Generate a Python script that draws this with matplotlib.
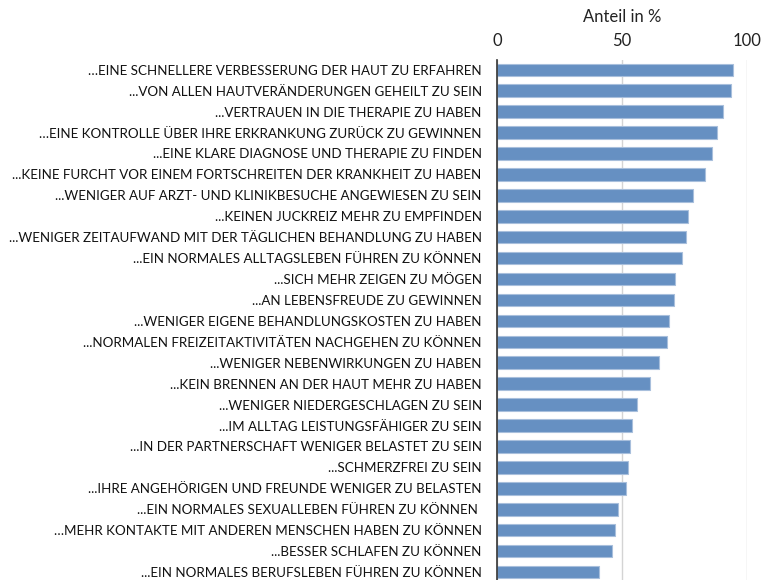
import numpy as np
import matplotlib.pyplot as plt

# Aussagen (von oben nach unten) und Anteil in %
labels = [
    "…EINE SCHNELLERE VERBESSERUNG DER HAUT ZU ERFAHREN",
    "...VON ALLEN HAUTVERÄNDERUNGEN GEHEILT ZU SEIN",
    "...VERTRAUEN IN DIE THERAPIE ZU HABEN",
    "…EINE KONTROLLE ÜBER IHRE ERKRANKUNG ZURÜCK ZU GEWINNEN",
    "...EINE KLARE DIAGNOSE UND THERAPIE ZU FINDEN",
    "...KEINE FURCHT VOR EINEM FORTSCHREITEN DER KRANKHEIT ZU HABEN",
    "...WENIGER AUF ARZT- UND KLINIKBESUCHE ANGEWIESEN ZU SEIN",
    "...KEINEN JUCKREIZ MEHR ZU EMPFINDEN",
    "...WENIGER ZEITAUFWAND MIT DER TÄGLICHEN BEHANDLUNG ZU HABEN",
    "...EIN NORMALES ALLTAGSLEBEN FÜHREN ZU KÖNNEN",
    "...SICH MEHR ZEIGEN ZU MÖGEN",
    "...AN LEBENSFREUDE ZU GEWINNEN",
    "...WENIGER EIGENE BEHANDLUNGSKOSTEN ZU HABEN",
    "...NORMALEN FREIZEITAKTIVITÄTEN NACHGEHEN ZU KÖNNEN",
    "...WENIGER NEBENWIRKUNGEN ZU HABEN",
    "...KEIN BRENNEN AN DER HAUT MEHR ZU HABEN",
    "...WENIGER NIEDERGESCHLAGEN ZU SEIN",
    "...IM ALLTAG LEISTUNGSFÄHIGER ZU SEIN",
    "...IN DER PARTNERSCHAFT WENIGER BELASTET ZU SEIN",
    "...SCHMERZFREI ZU SEIN",
    "...IHRE ANGEHÖRIGEN UND FREUNDE WENIGER ZU BELASTEN",
    "...EIN NORMALES SEXUALLEBEN FÜHREN ZU KÖNNEN ",
    "…MEHR KONTAKTE MIT ANDEREN MENSCHEN HABEN ZU KÖNNEN",
    "...BESSER SCHLAFEN ZU KÖNNEN",
    "...EIN NORMALES BERUFSLEBEN FÜHREN ZU KÖNNEN",
]
values = [94.2, 93.4, 90.4, 88.0, 85.9, 83.2, 78.4, 76.4, 75.6, 74.0,
          71.2, 70.9, 68.8, 67.9, 64.6, 61.2, 55.8, 53.9, 53.1, 52.4,
          51.6, 48.4, 47.2, 46.1, 40.8]
xticks = [0, 50, 100]

plt.rcParams['font.family'] = ['Lato', 'DejaVu Sans']

fig = plt.figure(figsize=(7.67, 5.80), dpi=100)
ax = fig.add_axes([0.648, 0.0, 0.326, 0.897])

y = np.arange(len(labels))
ax.barh(y, values, height=0.6, color='#6690c2', edgecolor='#a8bfdc', linewidth=0.8, zorder=3)

ax.set_xlim(0, 100)
ax.set_ylim(len(labels) - 0.62, -0.48)
ax.set_yticks(y)
ax.set_yticklabels(labels, fontsize=9.6, color='#111111')
ax.tick_params(axis='y', length=0, pad=11)

ax.xaxis.tick_top()
ax.xaxis.set_label_position('top')
ax.set_xticks(xticks)
ax.tick_params(axis='x', length=0, labelsize=12, pad=8, colors='#222222')
ax.set_xlabel('Anteil in %', fontsize=12, labelpad=8, color='#222222')

ax.grid(axis='x', color='#d4d4d4', linewidth=1, zorder=0)
for s in ['top', 'right', 'bottom']:
    ax.spines[s].set_visible(False)
ax.spines['left'].set_color('#333333')
ax.spines['left'].set_linewidth(1.2)
ax.spines['left'].set_zorder(4)

fig.savefig('out.png', dpi=100)
